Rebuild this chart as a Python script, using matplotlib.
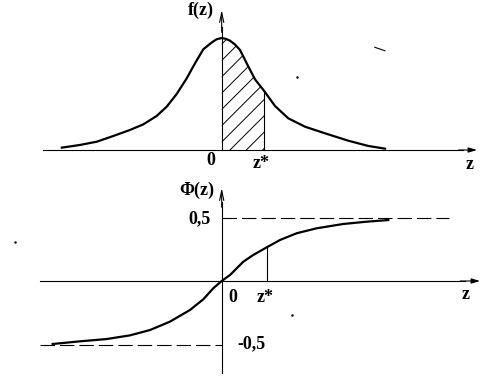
"""Normal density f(z) with hatched area 0..z* and the Laplace function Phi(z)."""

import matplotlib
matplotlib.use("Agg")
import matplotlib.pyplot as plt

W, H, DPI = 491, 377, 100
FONT = dict(family="Liberation Serif", weight="bold", fontsize=13)

# --- values (z* = 1 in both panels) --------------------------------------------
# top panel: density curve f(z), peak normalised to 1
Z_DENS = [-3.78, -3.35, -2.955, -2.563, -2.168, -1.853, -1.537, -1.30, -1.064,
          -0.827, -0.631, -0.435, -0.236, -0.123, 0.0, 0.102, 0.196, 0.314,
          0.433, 0.591, 0.787, 1.0, 1.26, 1.574, 1.969, 2.442, 2.993, 3.466, 3.861]
F_DENS = [0.021, 0.045, 0.074, 0.125, 0.179, 0.229, 0.304, 0.387, 0.50,
          0.640, 0.774, 0.899, 0.960, 0.988, 1.0, 0.992, 0.976, 0.942,
          0.893, 0.774, 0.631, 0.529, 0.393, 0.283, 0.208, 0.149, 0.083, 0.036,
          0.012]
Z_STAR = 1.0

# bottom panel: Phi(z), asymptotes at +-0.5
Z_PHI = [-3.756, -3.149, -2.556, -2.038, -1.593, -1.149, -0.704, -0.409, -0.187,
         0.0, 0.184, 0.48, 0.702, 1.0, 1.296, 1.667, 2.111, 2.702, 3.222, 3.702]
PHI = [-0.496, -0.475, -0.457, -0.428, -0.386, -0.320, -0.228, -0.144, -0.057,
       0.0, 0.047, 0.152, 0.205, 0.265, 0.323, 0.376, 0.415, 0.449, 0.467, 0.480]
PHI_LEVELS = [0.5, -0.5]

# pixel scale of each panel: (z=0 column, px per z, f=0 row, px per f)
TOP_MAP = (221.7, 42.3, 150, 112)
BOT_MAP = (221.7, 45.0, 281, 127)


def pixel_axes(fig, top, bottom, x0, xscale, y0, yscale):
    """Axes covering pixel rows top..bottom; data (0,0) sits at pixel (x0, y0)."""
    ax = fig.add_axes([0, 1 - bottom / H, 1, (bottom - top) / H])
    ax.set_xlim(-x0 / xscale, (W - x0) / xscale)
    ax.set_ylim((y0 - bottom) / yscale, (y0 - top) / yscale)
    ax.axis("off")
    return ax


def arrow(ax, start, end, style="-|>", hl=0.5, hw=0.15):
    ax.annotate("", xy=end, xytext=start,
                arrowprops=dict(arrowstyle=f"{style},head_length={hl},head_width={hw}",
                                lw=0.8, color="black", shrinkA=0, shrinkB=0))


fig = plt.figure(figsize=(W / DPI, H / DPI), dpi=DPI)
fig.patch.set_facecolor("white")

# ---------------------------------------------------------------- top panel
top = pixel_axes(fig, 0, 170, *TOP_MAP)
top.plot(Z_DENS, F_DENS, color="black", lw=1.6, solid_joinstyle="round")
i0, i1 = Z_DENS.index(0.0), Z_DENS.index(Z_STAR)
area = top.fill_between(Z_DENS[i0:i1 + 1], 0, F_DENS[i0:i1 + 1],
                        facecolor="none", lw=0)

# hand-drawn style hatching: 45 degree strokes, ~16 px apart, clipped to area
slope = TOP_MAP[1] / TOP_MAP[3]
step = 16.3 / TOP_MAP[3]
for k in range(-2, 12):
    f_at0 = -slope * 0.196 + k * step
    ln, = top.plot([0, Z_STAR], [f_at0, f_at0 + slope * Z_STAR],
                   color="black", lw=0.7)
    ln.set_clip_path(area.get_paths()[0], top.transData)

top.plot([Z_STAR, Z_STAR], [0, F_DENS[i1]], color="black", lw=0.8)
top.plot([-4.225, 5.7], [0, 0], color="black", lw=0.8)
arrow(top, (5.6, 0), (6.035, 0))
top.plot([0, 0], [0, 1.1], color="black", lw=0.8)
arrow(top, (0, 1.05), (0, 1.25), style="->", hl=0.7, hw=0.15)
top.text(-0.489, 1.25, "f(z)", ha="center", va="center", **FONT)
top.text(-0.253, -0.094, "0", ha="center", va="center", **FONT)
top.text(0.941, -0.121, "z*", ha="center", va="center", **FONT)
top.text(5.87, -0.128, "z", ha="center", va="center", **FONT)
# scan specks
top.plot([3.62, 3.86], [0.917, 0.886], color="black", lw=0.8)
top.plot([1.78], [0.652], "k.", ms=1.5)

# ------------------------------------------------------------- bottom panel
bot = pixel_axes(fig, 170, 377, *BOT_MAP)
bot.plot(Z_PHI, PHI, color="black", lw=1.6, solid_joinstyle="round")
j = Z_PHI.index(Z_STAR)
bot.plot([Z_STAR, Z_STAR], [0, PHI[j]], color="black", lw=0.8)
bot.plot([0, 5.05], [PHI_LEVELS[0]] * 2, color="black", lw=0.8, ls=(0, (13, 4.5)))
bot.plot([-4.04, 0], [PHI_LEVELS[1]] * 2, color="black", lw=0.8, ls=(0, (13, 4.5)))
bot.plot([-4.04, 5.4], [0, 0], color="black", lw=0.8)
arrow(bot, (5.3, 0), (5.74, 0))
bot.plot([0, 0], [-0.724, 0.62], color="black", lw=0.8)
arrow(bot, (0, 0.58), (0, 0.732), style="->", hl=0.7, hw=0.15)
bot.text(-0.549, 0.717, "Φ(z)", ha="center", va="center", **FONT)
bot.text(-0.49, 0.488, "0,5", ha="center", va="center", **FONT)
bot.text(0.651, -0.496, "-0,5", ha="center", va="center", **FONT)
bot.text(0.24, -0.126, "0", ha="center", va="center", **FONT)
bot.text(0.973, -0.126, "z*", ha="center", va="center", **FONT)
bot.text(5.43, -0.11, "z", ha="center", va="center", **FONT)
bot.plot([1.56, -4.59], [-0.268, 0.307], "k.", ms=1.5)

fig.savefig("out.png", dpi=DPI, facecolor="white")
